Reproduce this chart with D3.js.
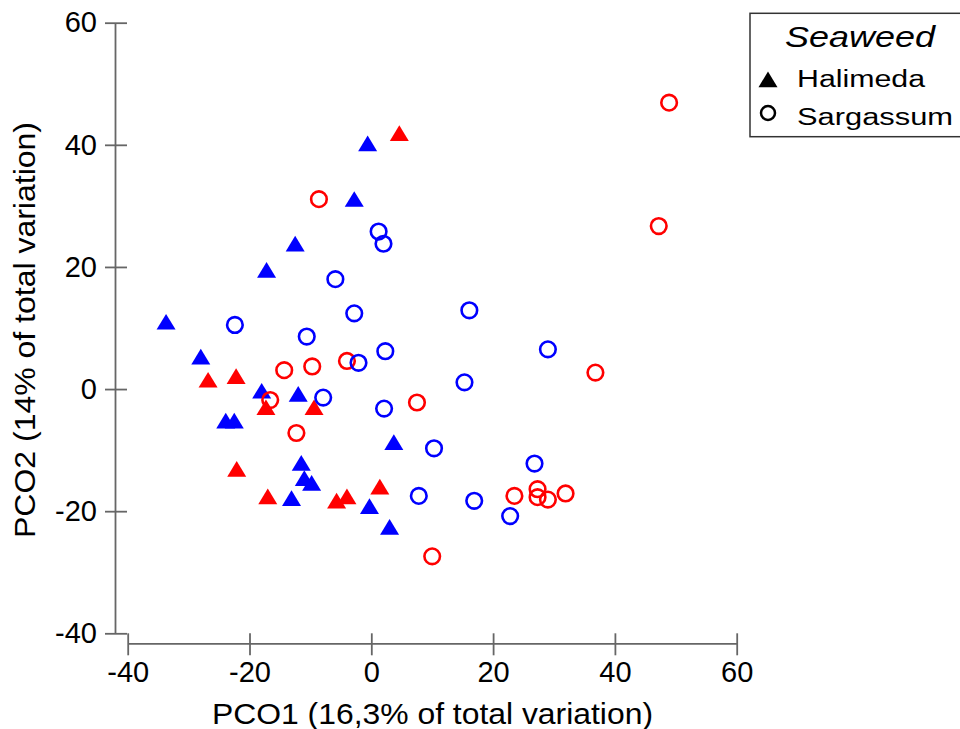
<!DOCTYPE html>
<html lang="en">
<head>
  <meta charset="UTF-8">
  <title>PCO - Seaweed</title>
  <script src="https://d3js.org/d3.v7.min.js"></script>
  <style>
    body { margin: 0; background: #fff; }
    svg { display: block; font-family: "Liberation Sans", Arial, sans-serif; }
    .axis path, .axis line { stroke: #666; stroke-width: 1.8; }
    .axis text { font-size: 29px; fill: #000; }
  </style>
</head>
<body>
<svg width="960" height="729"></svg>

<script>
// Halimeda (triangles) and Sargassum (circles), two colour groups each
const haliBlueX = [-0.6, -2.8, -12.5, -17.2, -33.7, -28.0, -18.0, -12.0, -23.9, -22.5, 3.7, -11.5, -11.0, -9.8, -13.1, -0.3, 3.0];
const haliBlueY = [40.2, 31.1, 23.8, 19.5, 11.0, 5.3, -0.3, -0.8, -5.2, -5.2, -8.7, -12.1, -14.6, -15.4, -17.9, -19.2, -22.6];

const haliRedX = [4.6, -26.8, -22.2, -17.3, -9.4, -22.1, -17.0, -5.7, -4.0, 1.4];
const haliRedY = [41.9, 1.5, 2.1, -3.0, -3.0, -13.1, -17.6, -18.3, -17.6, -16.0];

const sargRedX = [-8.6, 48.9, 47.2, -4.0, -14.3, -9.7, -16.6, -12.3, 7.5, 36.8, 23.5, 27.3, 27.3, 29.0, 31.9, 10.0];
const sargRedY = [31.1, 46.9, 26.7, 4.6, 3.1, 3.7, -1.8, -7.2, -2.2, 2.7, -17.5, -16.4, -17.7, -18.1, -17.1, -27.4];

const sargBlueX = [1.2, 2.0, -5.9, -22.4, -2.8, -10.6, 16.1, 2.3, -2.1, 29.0, 15.3, -7.9, 2.1, 10.3, 26.8, 7.8, 16.9, 22.8];
const sargBlueY = [25.8, 23.8, 18.0, 10.5, 12.4, 8.6, 12.9, 6.2, 4.3, 6.5, 1.1, -1.4, -3.2, -9.7, -12.2, -17.5, -18.3, -20.8];

const xTicks = [-40, -20, 0, 20, 40, 60];
const yTicks = [-40, -20, 0, 20, 40, 60];
const legendLabels = ["Halimeda", "Sargassum"];

const svg = d3.select("svg");

const x = d3.scaleLinear().domain([-40, 60]).range([127.7, 736.7]);
const y = d3.scaleLinear().domain([-40, 60]).range([633.3, 22.7]);

const yAxisX = 115, xAxisY = 643.3;
const plain = d => String(d);   // hyphen minus, like the original

// y axis (ticks cross the line)
const gy = svg.append("g")
  .attr("class", "axis")
  .attr("transform", `translate(${yAxisX},0)`)
  .call(d3.axisLeft(y).tickValues(yTicks).tickFormat(plain).tickSizeInner(10).tickSizeOuter(0).tickPadding(8));
gy.selectAll(".tick line").attr("x2", -10).attr("x1", 12);

// x axis
const gx = svg.append("g")
  .attr("class", "axis")
  .attr("transform", `translate(0,${xAxisY})`)
  .call(d3.axisBottom(x).tickValues(xTicks).tickFormat(plain).tickSizeInner(12).tickSizeOuter(0).tickPadding(6));
gx.selectAll(".tick line").attr("y1", -10);
gx.selectAll(".tick text").attr("dy", "0.71em");

svg.selectAll(".axis text").style("font-family", "'Liberation Sans', Arial, sans-serif");

// axis titles
svg.append("text")
  .attr("x", 212).attr("y", 724)
  .attr("textLength", 441).attr("lengthAdjust", "spacingAndGlyphs")
  .style("font-size", "30px")
  .text("PCO1 (16,3% of total variation)");

svg.append("text")
  .attr("transform", "translate(35,538) rotate(-90)")
  .attr("textLength", 416).attr("lengthAdjust", "spacingAndGlyphs")
  .style("font-size", "30px")
  .text("PCO2 (14% of total variation)");

// markers
const tri = "M0,-8L9.5,7.7L-9.5,7.7Z";

function triangles(xs, ys, color) {
  svg.append("g").selectAll("path")
    .data(xs.map((v, i) => [v, ys[i]]))
    .join("path")
    .attr("d", tri)
    .attr("transform", d => `translate(${x(d[0])},${y(d[1])})`)
    .attr("fill", color);
}

function circles(xs, ys, color) {
  svg.append("g").selectAll("circle")
    .data(xs.map((v, i) => [v, ys[i]]))
    .join("circle")
    .attr("cx", d => x(d[0]))
    .attr("cy", d => y(d[1]))
    .attr("r", 7.8)
    .attr("fill", "none")
    .attr("stroke", color)
    .attr("stroke-width", 2.6);
}

triangles(haliBlueX, haliBlueY, "#0000ff");
triangles(haliRedX, haliRedY, "#ff0000");
circles(sargRedX, sargRedY, "#ff0000");
circles(sargBlueX, sargBlueY, "#0000ff");

// legend
const lg = svg.append("g");
lg.append("rect")
  .attr("x", 750).attr("y", 13.3)
  .attr("width", 230).attr("height", 123.4)
  .attr("fill", "#fff").attr("stroke", "#333").attr("stroke-width", 1.5);

lg.append("text")
  .attr("x", 785).attr("y", 47)
  .attr("textLength", 150).attr("lengthAdjust", "spacingAndGlyphs")
  .style("font-size", "30px").style("font-style", "italic")
  .text("Seaweed");

lg.append("path")
  .attr("d", tri)
  .attr("transform", "translate(768,79.5)")
  .attr("fill", "#000");

lg.append("circle")
  .attr("cx", 768).attr("cy", 113).attr("r", 7)
  .attr("fill", "none").attr("stroke", "#000").attr("stroke-width", 2.5);

lg.selectAll("text.lab")
  .data(legendLabels)
  .join("text")
  .attr("class", "lab")
  .attr("x", 797)
  .attr("y", (d, i) => 87 + i * 38)
  .attr("textLength", (d, i) => i === 0 ? 128 : 156)
  .attr("lengthAdjust", "spacingAndGlyphs")
  .style("font-size", "23.5px")
  .text(d => d);
</script>
</body>
</html>
